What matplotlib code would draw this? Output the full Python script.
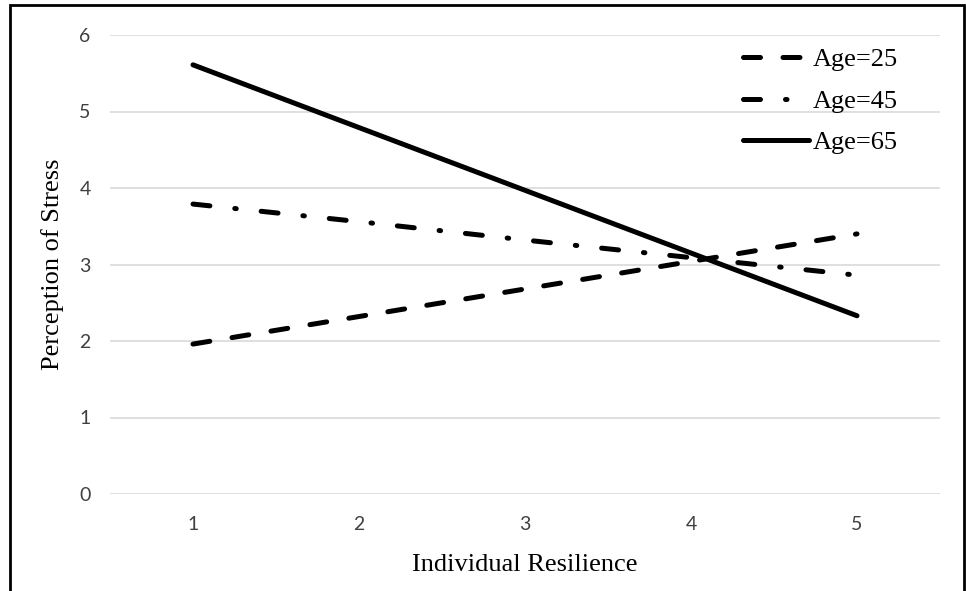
import matplotlib.pyplot as plt
from matplotlib.patches import Rectangle

# data
resilience = [1, 2, 3, 4, 5]
age_25 = [1.96, 2.32, 2.68, 3.04, 3.40]
age_45 = [3.79, 3.56, 3.32, 3.09, 2.86]
age_65 = [5.61, 4.79, 3.97, 3.15, 2.33]
y_ticks = [0, 1, 2, 3, 4, 5, 6]

fig = plt.figure(figsize=(9.66, 5.91), dpi=100)
ax = fig.add_axes([110 / 966, 1 - 494 / 591, 830 / 966, 459 / 591])

lw = 3.6
ax.plot(resilience, age_25, color='black', lw=lw, dashes=(3.4, 4.5),
        dash_capstyle='round', label='Age=25')
ax.plot(resilience, age_45, color='black', lw=lw, dashes=(3.4, 5.0, 0.3, 5.0),
        dash_capstyle='round', label='Age=45')
ax.plot(resilience, age_65, color='black', lw=lw, solid_capstyle='round',
        label='Age=65')

ax.set_xlim(0.5, 5.5)
ax.set_ylim(0, 6)
ax.set_xticks(resilience)
ax.set_yticks(y_ticks)
ax.grid(axis='y', color='#d9d9d9', lw=1.2)
ax.set_axisbelow(True)
for s in ax.spines.values():
    s.set_visible(False)
ax.tick_params(length=0, labelsize=14, colors='#404040')
for lab in ax.get_xticklabels() + ax.get_yticklabels():
    lab.set_family('Lato')
ax.tick_params(axis='x', pad=16)
ax.tick_params(axis='y', pad=14)

ax.set_xlabel('Individual Resilience', family='Liberation Serif', fontsize=19, labelpad=15)
ax.set_ylabel('Perception of Stress', family='Liberation Serif', fontsize=19, labelpad=11)

leg = fig.legend(loc='upper right', bbox_to_anchor=(898 / 966, 1 - 48 / 591),
                 frameon=False, borderpad=0, borderaxespad=0,
                 prop={'family': 'Liberation Serif', 'size': 19},
                 handlelength=2.5, handletextpad=0.15, labelspacing=0.68)

# figure border
fig.add_artist(Rectangle((10 / 966, -0.01), 954 / 966, 1 - 5 / 591 + 0.01,
                         transform=fig.transFigure, fill=False,
                         edgecolor='black', lw=2))

plt.savefig('out.png', dpi=100)
